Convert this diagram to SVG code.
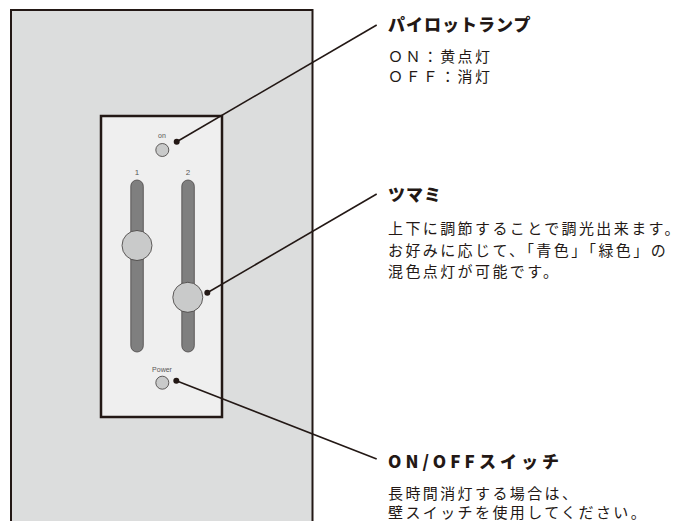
<svg xmlns="http://www.w3.org/2000/svg" width="684" height="521" viewBox="0 0 684 521">
<style>
.plate{fill:#dcdddd;stroke:#231815;stroke-width:2}
.panel{fill:#efefef;stroke:#231815;stroke-width:2.5}
.track{fill:#7f7f7f;stroke:#4a4646;stroke-width:0.8}
.knob{fill:#c9caca;stroke:#3e3a39;stroke-width:0.8}
.led{fill:#c9caca;stroke:#3e3a39;stroke-width:0.8}
.small{font-family:"Liberation Sans","Open Sans",sans-serif;fill:#595757;text-anchor:middle}
.lead{stroke:#231815;stroke-width:1.6;fill:none}
.dot{fill:#231815}
.title{font-family:"Noto Sans CJK JP",sans-serif;font-weight:900;font-size:17px;fill:#231815;letter-spacing:1px}
.body{font-family:"Noto Sans CJK JP",sans-serif;font-size:15px;fill:#231815;letter-spacing:2.4px}
</style>
<rect class="plate" x="11" y="10" width="301.5" height="540"/>
<g id="panel">
<rect class="panel" x="101" y="116" width="121" height="301"/>
</g>
<g id="pilot-lamp">
<text class="small" x="162" y="138" font-size="7">on</text>
<circle class="led" cx="162.3" cy="150" r="6.5"/>
</g>
<g id="slider1">
<text class="small" x="137" y="175" font-size="8">1</text>
<rect class="track" x="130.8" y="180" width="12.5" height="172" rx="6.25"/>
<circle class="knob" cx="137" cy="245.5" r="15"/>
</g>
<g id="slider2">
<text class="small" x="188" y="175" font-size="8">2</text>
<rect class="track" x="181.8" y="180" width="12.5" height="172" rx="6.25"/>
<circle class="knob" cx="187.8" cy="297.3" r="15"/>
</g>
<g id="power-switch">
<text class="small" x="162" y="372" font-size="7">Power</text>
<circle class="led" cx="162.3" cy="382.7" r="6.5"/>
</g>
<g id="connectors">
<line class="lead" x1="176.7" y1="141.7" x2="376.7" y2="25"/>
<circle class="dot" cx="176.7" cy="141.7" r="3"/>
<line class="lead" x1="207.3" y1="292.7" x2="376.7" y2="194"/>
<circle class="dot" cx="207.3" cy="292.7" r="3"/>
<line class="lead" x1="176.3" y1="380.7" x2="376.7" y2="459"/>
<circle class="dot" cx="176.3" cy="380.7" r="3"/>
</g>
<g id="label-pilot">
<text class="title" x="388" y="31">パイロットランプ</text>
<text class="body" x="388" y="62" letter-spacing="1.7">ＯＮ：黄点灯</text>
<text class="body" x="388" y="82" letter-spacing="1.7">ＯＦＦ：消灯</text>
</g>
<g id="label-knob">
<text class="title" x="388" y="201">ツマミ</text>
<text class="body" x="388" y="234">上下に調節することで調光出来ます。</text>
<text class="body" x="388" y="256">お好みに応じて、「青色」「緑色」の</text>
<text class="body" x="388" y="277">混色点灯が可能です。</text>
</g>
<g id="label-switch">
<text class="title" x="388" y="468" textLength="172" lengthAdjust="spacing">ON/OFFスイッチ</text>
<text class="body" x="388" y="499">長時間消灯する場合は、</text>
<text class="body" x="388" y="518">壁スイッチを使用してください。</text>
</g>
</svg>
